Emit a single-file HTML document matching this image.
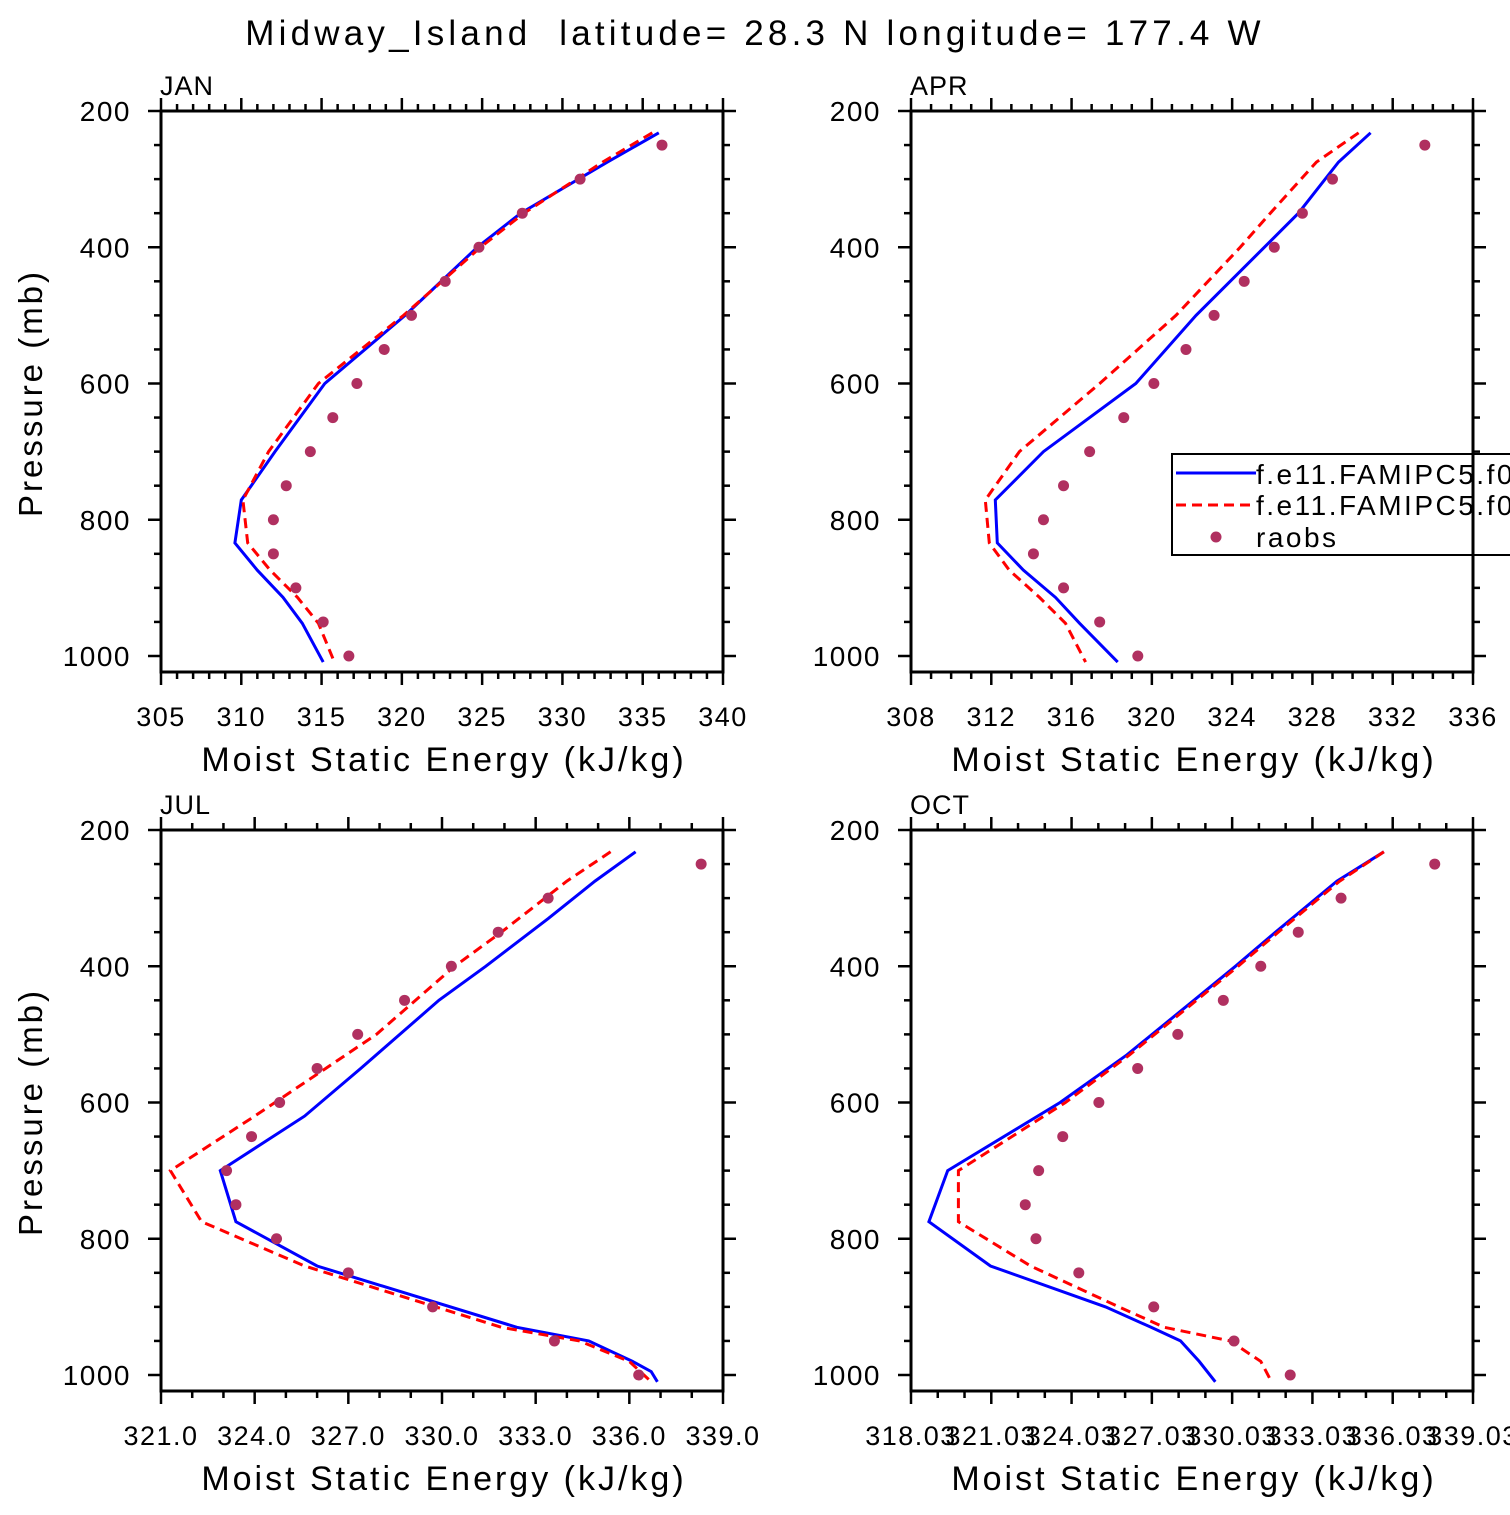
<!DOCTYPE html>
<html><head><meta charset="utf-8"><style>
html,body{margin:0;padding:0;background:#fff}
svg text{font-family:"Liberation Sans",sans-serif;fill:#000}
</style></head><body>
<svg id="chart" width="1510" height="1510" viewBox="0 0 1510 1510" xmlns="http://www.w3.org/2000/svg">
<text x="755" y="45" font-size="35" text-anchor="middle" letter-spacing="4.2" xml:space="preserve">Midway_Island  latitude= 28.3 N longitude= 177.4 W</text>
</svg>
<script>
const modelP = [232,275,350,400,500,600,700,771,834,874,914,952,1009];
const obsP = [250,300,350,400,450,500,550,600,650,700,750,800,850,900,950,1000];
const janBlue = [336.0,332.8,327.4,324.7,320.2,315.2,312.1,310.0,309.6,311.0,312.6,313.8,315.1];
const janRed = [335.6,332.5,327.6,324.9,320.1,314.8,311.7,310.1,310.4,311.8,313.5,314.8,315.8];
const janObs = [336.2,331.1,327.5,324.8,322.7,320.6,318.9,317.2,315.7,314.3,312.8,312.0,312.0,313.4,315.1,316.7];
const aprBlue = [330.9,329.3,327.3,325.6,322.2,319.2,314.6,312.2,312.3,313.6,315.2,316.4,318.3];
const aprRed = [330.3,328.2,325.9,324.4,321.2,317.4,313.4,311.7,311.9,312.9,314.4,315.7,316.7];
const aprObs = [333.6,329.0,327.5,326.1,324.6,323.1,321.7,320.1,318.6,316.9,315.6,314.6,314.1,315.6,317.4,319.3];
const julP = [232,275,330,400,450,550,620,700,775,840,930,950,980,995,1010];
const julBlue = [336.2,334.9,333.4,331.4,329.9,327.4,325.6,322.9,323.4,326.0,332.4,334.7,336.1,336.7,336.9];
const julRedP = [232,275,350,400,500,620,700,775,840,930,950,980,1010];
const julRed = [335.4,334.0,331.9,330.4,327.9,324.0,321.3,322.3,325.6,331.9,334.4,336.0,336.7];
const julObs = [338.3,333.4,331.8,330.3,328.8,327.3,326.0,324.8,323.9,323.1,323.4,324.7,327.0,329.7,333.6,336.3];
const octP = [232,275,350,400,450,530,600,700,775,840,900,930,950,980,1010];
const octBlue = [335.7,333.95,331.65,330.15,328.6,326.1,323.6,319.4,318.7,321.0,325.3,327.0,328.1,328.8,329.4];
const octRed = [335.7,334.05,331.75,330.25,328.7,326.2,323.8,319.8,319.8,322.5,325.8,327.5,329.95,331.1,331.5];
const octObs = [337.6,334.1,332.5,331.1,329.7,328.0,326.5,325.05,323.7,322.8,322.3,322.7,324.3,327.1,330.1,332.2];
const yTicks = [200,400,600,800,1000];
const janX = [305,310,315,320,325,330,335,340];
const aprX = [308,312,316,320,324,328,332,336];
const julX = [321.0,324.0,327.0,330.0,333.0,336.0,339.0];
const octX = [318.03,321.03,324.03,327.03,330.03,333.03,336.03,339.03];

const NS="http://www.w3.org/2000/svg";
const svg=document.getElementById('chart');
function mk(tag,attrs,parent){const e=document.createElementNS(NS,tag);for(const k in attrs)e.setAttribute(k,attrs[k]);(parent||svg).appendChild(e);return e;}

const panels=[
 {name:'jan',label:'JAN',x0:161,y0:111,xmin:305,xmax:340,minor:1,ticks:janX,dec:0,blue:[modelP,janBlue],red:[modelP,janRed],obs:janObs},
 {name:'apr',label:'APR',x0:911,y0:111,xmin:308,xmax:336,minor:1,ticks:aprX,dec:0,blue:[modelP,aprBlue],red:[modelP,aprRed],obs:aprObs},
 {name:'jul',label:'JUL',x0:161,y0:830,xmin:321,xmax:339,minor:1,ticks:julX,dec:1,blue:[julP,julBlue],red:[julRedP,julRed],obs:julObs},
 {name:'oct',label:'OCT',x0:911,y0:830,xmin:318.03,xmax:339.03,minor:1,ticks:octX,dec:2,blue:[octP,octBlue],red:[octP,octRed],obs:octObs}
];
const W=562,H=561,pxPerMb=545/800;

panels.forEach((pn,i)=>{
 const g=mk('g',{});
 
 
 const xs=v=>pn.x0+(v-pn.xmin)/(pn.xmax-pn.xmin)*W;
 const ys=p=>pn.y0+(p-200)*pxPerMb;
 const clipId='clip'+i;
 const cp=mk('clipPath',{id:clipId},g);
 mk('rect',{x:pn.x0,y:pn.y0,width:W,height:H},cp);
 const lineStr=(arr)=>arr[1].map((v,k)=>xs(v).toFixed(1)+','+ys(arr[0][k]).toFixed(1)).join(' ');
 const bl=mk('polyline',{points:lineStr(pn.blue),fill:'none',stroke:'#0000ff','stroke-width':3,'clip-path':'url(#'+clipId+')'},g);
 
 
 const rl=mk('polyline',{points:lineStr(pn.red),fill:'none',stroke:'#ff0000','stroke-width':3,'stroke-dasharray':'10,6','clip-path':'url(#'+clipId+')'},g);
 
 
 pn.obs.forEach((v,k)=>{
  const c=mk('circle',{cx:xs(v),cy:ys(obsP[k]),r:5.5,fill:'#b03060'},g);
  
  
 });
 const fr=mk('rect',{x:pn.x0,y:pn.y0,width:W,height:H,fill:'none',stroke:'#000','stroke-width':3},g);
 
 
 for(let p=200;p<=1000;p+=50){
  const y=ys(p),len=(p%200===0)?13:7;
  mk('line',{x1:pn.x0-len,y1:y,x2:pn.x0,y2:y,stroke:'#000','stroke-width':2.5},g);
  mk('line',{x1:pn.x0+W,y1:y,x2:pn.x0+W+len,y2:y,stroke:'#000','stroke-width':2.5},g);
 }
 yTicks.forEach(p=>{
  const t=mk('text',{x:pn.x0-30,y:ys(p)+10,'font-size':28,'text-anchor':'end','letter-spacing':'1.5'},g);
  t.textContent=p;
  
  
 });
 const nMinor=Math.round((pn.xmax-pn.xmin)/pn.minor);
 const step=pn.ticks[1]-pn.ticks[0];
 for(let k=0;k<=nMinor;k++){
  const v=pn.xmin+k*pn.minor;
  const major=Math.abs(((v-pn.xmin)/step)-Math.round((v-pn.xmin)/step))<1e-6;
  const x=xs(v),len=major?13:7;
  mk('line',{x1:x,y1:pn.y0-len,x2:x,y2:pn.y0,stroke:'#000','stroke-width':2.5},g);
  mk('line',{x1:x,y1:pn.y0+H,x2:x,y2:pn.y0+H+len,stroke:'#000','stroke-width':2.5},g);
 }
 pn.ticks.forEach(v=>{
  const t=mk('text',{x:xs(v),y:pn.y0+H+54,'font-size':27,'text-anchor':'middle','letter-spacing':'1.5'},g);
  t.textContent=v.toFixed(pn.dec);
  
  
 });
 const xt=mk('text',{x:pn.x0+283,y:pn.y0+H+99,'font-size':34,'text-anchor':'middle','letter-spacing':'3'},g);
 xt.textContent='Moist Static Energy (kJ/kg)';
 
 
 const lb=mk('text',{x:pn.x0-1,y:pn.y0-16,'font-size':27,'letter-spacing':'1'},g);
 lb.textContent=pn.label;
 
 
 if(pn.x0<500){
  const yt=mk('text',{x:0,y:0,'font-size':33,'text-anchor':'middle','letter-spacing':'3',transform:'translate(42,'+(pn.y0+282)+') rotate(-90)'},g);
  yt.textContent='Pressure (mb)';
  
  
 }
});
const lg=mk('g',{});


mk('rect',{x:1172,y:454,width:345,height:101,fill:'#fff',stroke:'#000','stroke-width':2},lg);
mk('line',{x1:1176,y1:473,x2:1256,y2:473,stroke:'#0000ff','stroke-width':3},lg);
mk('line',{x1:1176,y1:505,x2:1256,y2:505,stroke:'#ff0000','stroke-width':3,'stroke-dasharray':'10,6'},lg);
mk('circle',{cx:1216,cy:537,r:5.5,fill:'#b03060'},lg);
[['f.e11.FAMIPC5.f09',484],['f.e11.FAMIPC5.f09',515],['raobs',547]].forEach(([s,y])=>{
 const t=mk('text',{x:1256,y:y,'font-size':28,'letter-spacing':'2.5'},lg);
 t.textContent=s;
 
 
});
mk('line',{x1:1473,y1:440,x2:1473,y2:570,stroke:'#000','stroke-width':3},lg);
</script>
</body></html>
